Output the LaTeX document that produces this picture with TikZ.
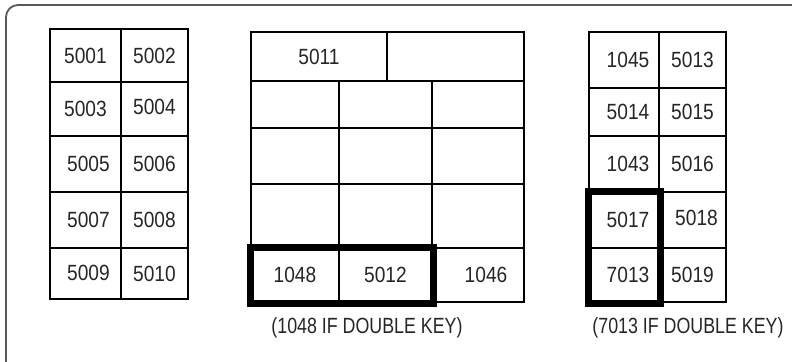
\documentclass[tikz,border=0pt]{standalone}
\usepackage{fontspec}
\setmainfont{Liberation Sans}[FakeStretch=0.87]
\newfontfamily\notefont{Liberation Sans}[FakeStretch=0.81]
\usetikzlibrary{fit,positioning}

\begin{document}
\begin{tikzpicture}[
    x=0.5pt, y=-0.5pt,
    font=\fontsize{11pt}{13pt}\selectfont,
    cell/.style={draw, line width=1pt, inner sep=0pt, text=black!85},
    dkey/.style={draw, line width=3.5pt, inner sep=0pt},
    note/.style={inner sep=0pt, text=black!85, font=\notefont\fontsize{11pt}{13pt}\selectfont},
    frame/.style={draw=black!65, line width=0.9pt, rounded corners=6pt}
  ]
    \useasboundingbox (0,0) rectangle (792,361);
    \clip (0,0) rectangle (792,361);
    \draw[frame] (6,5) rectangle (810,375);

    % left panel
    \node[cell, minimum width=35.5pt, minimum height=26.5pt] (l11) at (85.5,55.5) {5001};
    \node[cell, minimum width=33.5pt, minimum height=26.5pt] (l12) at (154.5,55.5) {5002};
    \node[cell, minimum width=35.5pt, minimum height=27pt] (l21) at (85.5,109) {5003};
    \node[cell, minimum width=33.5pt, minimum height=27pt] (l22) at (154.5,109) {\raisebox{2pt}{5004}};
    \node[cell, minimum width=35.5pt, minimum height=28pt] (l31) at (85.5,164) {\hspace{3pt}5005};
    \node[cell, minimum width=33.5pt, minimum height=28pt] (l32) at (154.5,164) {5006};
    \node[cell, minimum width=35.5pt, minimum height=28pt] (l41) at (85.5,220) {\hspace{3pt}5007};
    \node[cell, minimum width=33.5pt, minimum height=28pt] (l42) at (154.5,220) {5008};
    \node[cell, minimum width=35.5pt, minimum height=25.5pt] (l51) at (85.5,273.5) {\hspace{3pt}\raisebox{1pt}{5009}};
    \node[cell, minimum width=33.5pt, minimum height=25.5pt] (l52) at (154.5,273.5) {\raisebox{-1pt}{5010}};

    % middle panel
    \node[cell, minimum width=68pt, minimum height=24.5pt] (m11) at (319,56.5) {5011};
    \node[cell, minimum width=68.5pt, minimum height=24.5pt] (m12) at (455.5,56.5) {};
    \node[cell, minimum width=44pt, minimum height=23.5pt] (m21) at (295,104.5) {};
    \node[cell, minimum width=46.5pt, minimum height=23.5pt] (m22) at (385.5,104.5) {};
    \node[cell, minimum width=46pt, minimum height=23.5pt] (m23) at (478,104.5) {};
    \node[cell, minimum width=44pt, minimum height=28pt] (m31) at (295,156) {};
    \node[cell, minimum width=46.5pt, minimum height=28pt] (m32) at (385.5,156) {};
    \node[cell, minimum width=46pt, minimum height=28pt] (m33) at (478,156) {};
    \node[cell, minimum width=44pt, minimum height=32pt] (m41) at (295,216) {};
    \node[cell, minimum width=46.5pt, minimum height=32pt] (m42) at (385.5,216) {};
    \node[cell, minimum width=46pt, minimum height=32pt] (m43) at (478,216) {};
    \node[cell, minimum width=44pt, minimum height=27pt] (m51) at (295,275) {1048};
    \node[cell, minimum width=46.5pt, minimum height=27pt] (m52) at (385.5,275) {5012};
    \node[cell, minimum width=46pt, minimum height=27pt] (m53) at (478,275) {\hspace{8pt}1046};
    \node[dkey, fit=(m51)(m52)] (dkmid) {};
    \node[note] (notemid) at (367,328) {(1048 IF DOUBLE KEY)};

    % right panel
    \node[cell, minimum width=35pt, minimum height=28pt] (r11) at (624,60) {\hspace{4pt}1045};
    \node[cell, minimum width=33.5pt, minimum height=28pt] (r12) at (692.5,60) {5013};
    \node[cell, minimum width=35pt, minimum height=24pt] (r21) at (624,112) {\hspace{4pt}5014};
    \node[cell, minimum width=33.5pt, minimum height=24pt] (r22) at (692.5,112) {5015};
    \node[cell, minimum width=35pt, minimum height=28pt] (r31) at (624,164) {\hspace{4pt}1043};
    \node[cell, minimum width=33.5pt, minimum height=28pt] (r32) at (692.5,164) {5016};
    \node[cell, minimum width=35pt, minimum height=28pt] (r41) at (624,220) {\hspace{4pt}5017};
    \node[cell, minimum width=33.5pt, minimum height=28pt] (r42) at (692.5,220) {\hspace{4pt}\raisebox{2pt}{5018}};
    \node[cell, minimum width=35pt, minimum height=27pt] (r51) at (624,275) {\hspace{4pt}7013};
    \node[cell, minimum width=33.5pt, minimum height=27pt] (r52) at (692.5,275) {5019};
    \node[dkey, fit=(r41)(r51)] (dkright) {};
    \node[note] (noteright) at (688,328) {(7013 IF DOUBLE KEY)};
  \end{tikzpicture}
\end{document}
